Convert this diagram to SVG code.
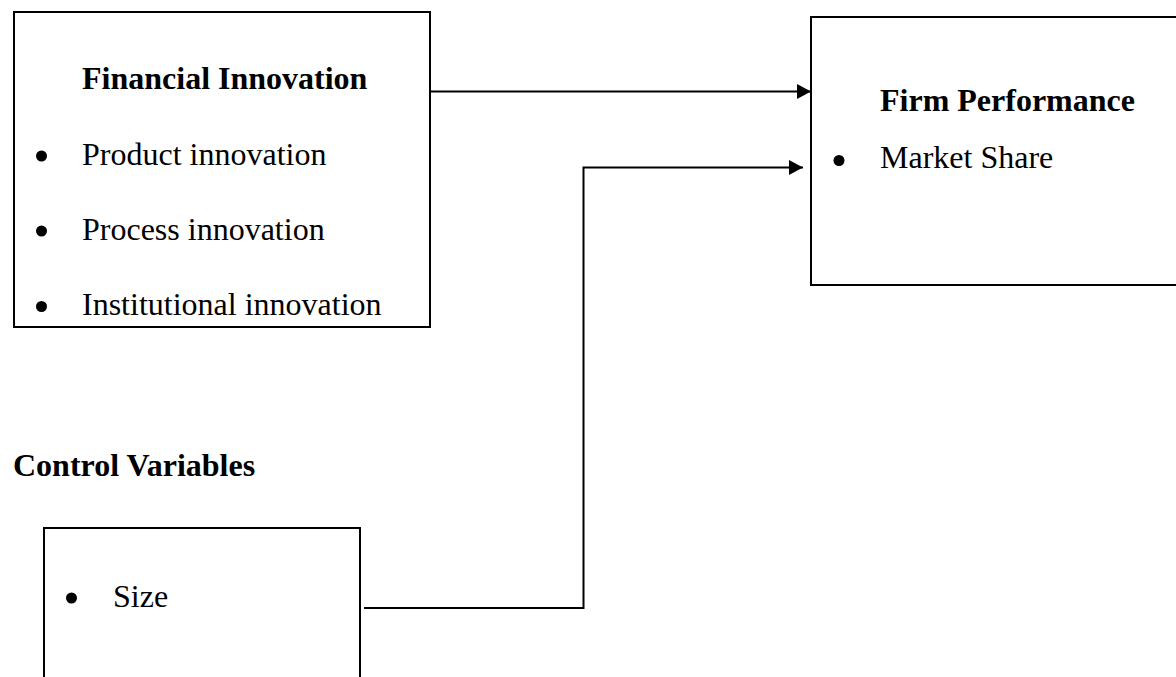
<svg xmlns="http://www.w3.org/2000/svg" width="1176" height="677" viewBox="0 0 1176 677">
<style>
.box{fill:#fff;stroke:#000;stroke-width:2}
.t{font-family:"Liberation Serif","Times New Roman",serif;font-size:32px;fill:#000}
.b{font-weight:bold}
.conn{fill:none;stroke:#000;stroke-width:2}
</style>
<defs>
<marker id="ah" markerUnits="userSpaceOnUse" markerWidth="15" markerHeight="16" refX="14" refY="7.5" orient="auto">
<path d="M0,0 L14,7.5 L0,15 Z" fill="#000"/>
</marker>
</defs>
<rect width="1176" height="677" fill="#fff"/>
<g id="financial-innovation">
<rect class="box" x="14" y="12" width="416" height="315"/>
<text class="t b" x="82" y="89">Financial Innovation</text>
<circle cx="41.5" cy="156" r="5.5"/>
<text class="t" x="82" y="165">Product innovation</text>
<circle cx="41.5" cy="231" r="5.5"/>
<text class="t" x="82" y="240">Process innovation</text>
<circle cx="41.5" cy="306.5" r="5.5"/>
<text class="t" x="82" y="315">Institutional innovation</text>
</g>
<g id="firm-performance">
<rect class="box" x="811" y="17" width="380" height="268"/>
<text class="t b" x="880" y="111">Firm Performance</text>
<circle cx="839" cy="160.5" r="5.5"/>
<text class="t" x="880" y="168">Market Share</text>
</g>
<g id="control-label">
<text class="t b" x="13" y="476">Control Variables</text>
</g>
<g id="control-variables">
<rect class="box" x="44" y="528" width="316" height="170"/>
<circle cx="71.5" cy="598" r="5.5"/>
<text class="t" x="113" y="607">Size</text>
</g>
<g id="connectors">
<line class="conn" x1="430" y1="91.5" x2="811" y2="91.5" marker-end="url(#ah)"/>
<polyline class="conn" points="364,608 583.5,608 583.5,167.5 803,167.5" marker-end="url(#ah)"/>
</g>
</svg>
